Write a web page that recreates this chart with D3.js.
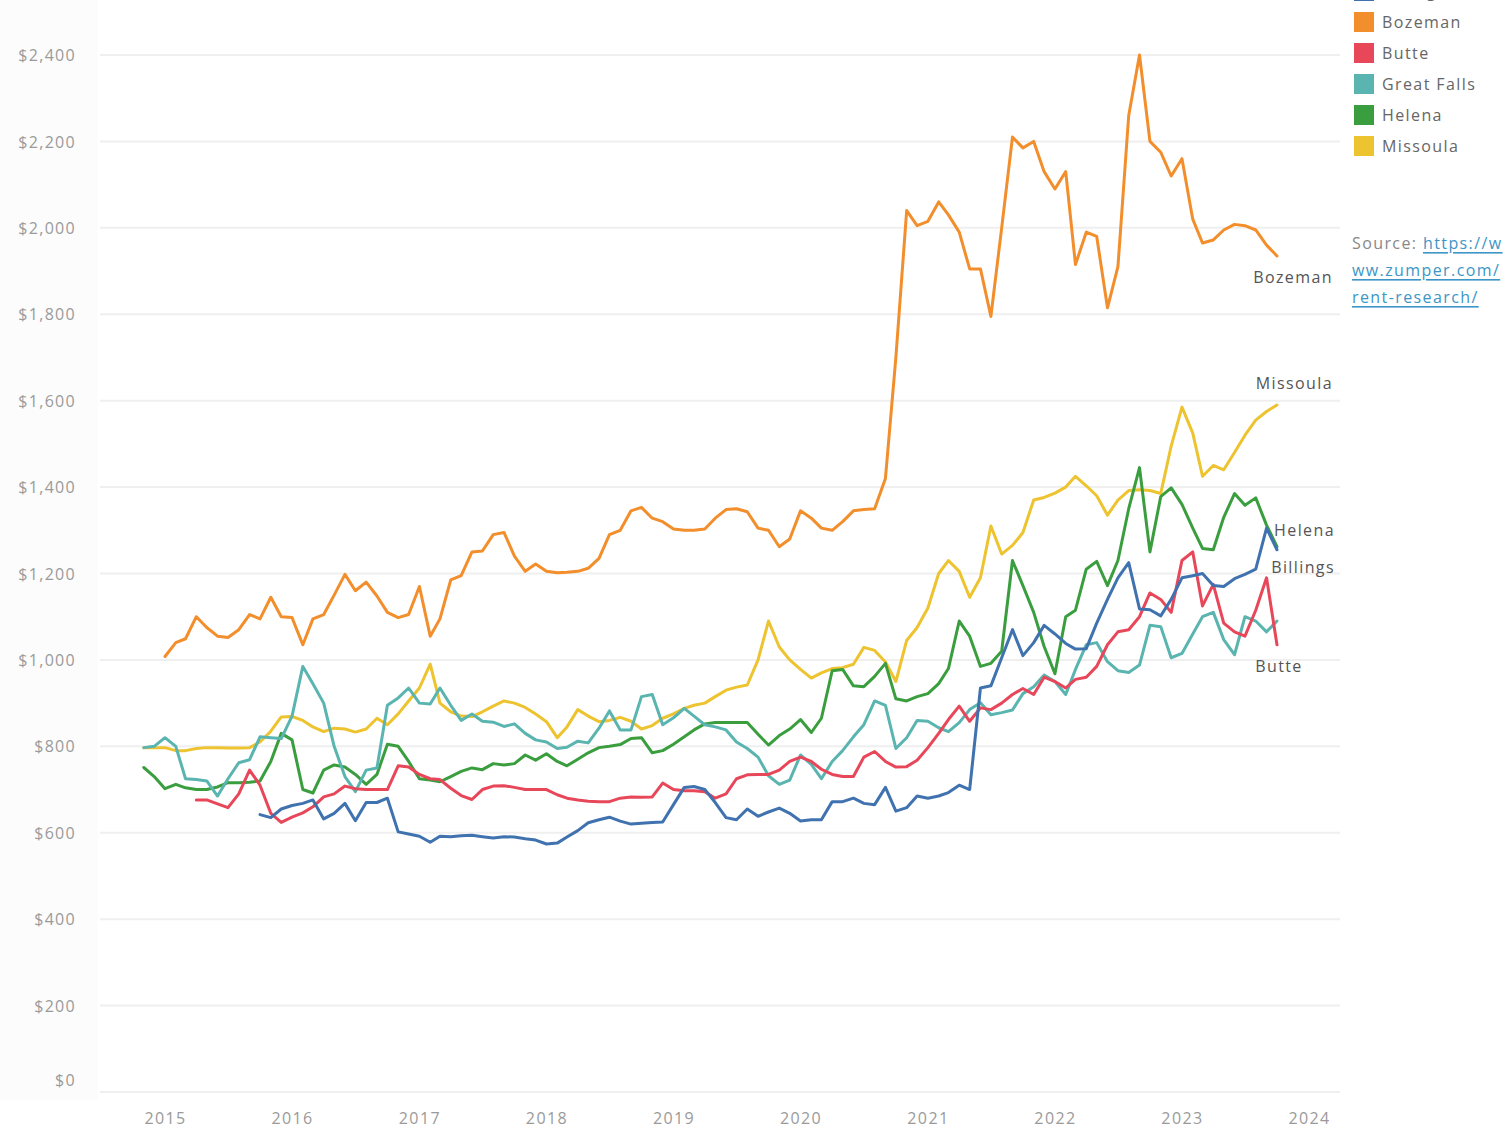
<!DOCTYPE html>
<html>
<head>
<meta charset="utf-8">
<script src="https://cdn.jsdelivr.net/npm/d3@7"></script>
<style>
  body { margin: 0; background: #fff; }
  text { font-family: "Open Sans", "DejaVu Sans", sans-serif; }
</style>
</head>
<body>
<div id="chart"></div>
<script>
// monthly median 1BR rent, Montana cities
var FIRSTMONTH = new Date(2014, 10, 1); // Nov 2014
var YEARTICKS = [2015, 2016, 2017, 2018, 2019, 2020, 2021, 2022, 2023, 2024];
var RENTTICKS = [0, 200, 400, 600, 800, 1000, 1200, 1400, 1600, 1800, 2000, 2200, 2400];
var CITIES = ['Billings', 'Bozeman', 'Butte', 'Great Falls', 'Helena', 'Missoula'];
var COLORS = ['#3f72af', '#f28e2b', '#e8475a', '#5ab4b0', '#3a9e3f', '#edc32f'];
var STARTOFFSET = [11, 2, 5, 0, 0, 0]; // months after Nov 2014 where each series begins

var billings = [642, 635, 655, 663, 668, 676, 632, 645, 668, 628,
  670, 670, 680, 602, 597, 592, 578, 592, 591, 593,
  594, 591, 588, 591, 590, 586, 583, 574, 576, 590,
  605, 623, 630, 636, 627, 620, 622, 624, 625, 665,
  705, 707, 700, 670, 635, 630, 655, 638, 648, 657,
  645, 627, 630, 630, 672, 672, 680, 668, 665, 705,
  650, 658, 685, 680, 685, 693, 710, 700, 935, 940,
  1005, 1070, 1010, 1040, 1080, 1060, 1038, 1025, 1026, 1085,
  1140, 1190, 1225, 1118, 1116, 1102, 1140, 1190, 1195, 1200,
  1172, 1170, 1188, 1198, 1210, 1305, 1255];

var bozeman = [1008, 1040, 1049, 1100, 1075, 1055, 1052, 1070, 1105, 1095,
  1145, 1100, 1098, 1035, 1095, 1105, 1150, 1198, 1160, 1180,
  1148, 1110, 1098, 1105, 1170, 1055, 1095, 1185, 1195, 1250,
  1252, 1290, 1295, 1240, 1205, 1222, 1205, 1202, 1203, 1205,
  1212, 1235, 1290, 1300, 1345, 1353, 1328, 1320, 1303, 1300,
  1300, 1303, 1328, 1348, 1350, 1343, 1305, 1300, 1262, 1280,
  1345, 1328, 1305, 1300, 1320, 1345, 1348, 1350, 1420, 1700,
  2040, 2005, 2015, 2060, 2030, 1990, 1905, 1905, 1795, 2000,
  2210, 2185, 2200, 2130, 2090, 2130, 1915, 1990, 1980, 1815,
  1910, 2260, 2400, 2200, 2175, 2120, 2160, 2020, 1965, 1972,
  1995, 2008, 2005, 1995, 1960, 1935];

var butte = [676, 676, 667, 658, 690, 745, 710, 645, 624, 636,
  646, 660, 683, 690, 708, 702, 700, 700, 700, 755,
  752, 735, 725, 723, 703, 686, 677, 700, 708, 709,
  705, 700, 700, 700, 688, 680, 676, 673, 672, 672,
  680, 683, 682, 683, 715, 700, 697, 697, 695, 680,
  690, 725, 734, 735, 735, 745, 765, 775, 765, 747,
  735, 730, 730, 775, 788, 765, 752, 753, 768, 797,
  830, 862, 893, 858, 889, 885, 900, 920, 934, 920,
  960, 950, 935, 955, 960, 985, 1035, 1065, 1070, 1100,
  1155, 1140, 1110, 1230, 1250, 1125, 1175, 1085, 1065, 1055,
  1115, 1190, 1035];

var greatFalls = [797, 800, 820, 800, 725, 723, 720, 685, 725, 762,
  769, 822, 820, 818, 870, 985, 945, 900, 800, 730,
  695, 745, 750, 895, 912, 935, 900, 898, 935, 895,
  860, 875, 858, 856, 846, 852, 830, 815, 810, 795,
  798, 812, 808, 842, 882, 838, 838, 915, 920, 850,
  866, 888, 870, 850, 845, 838, 810, 795, 775, 732,
  712, 722, 780, 758, 725, 765, 790, 822, 850, 905,
  895, 795, 820, 860, 858, 843, 834, 855, 885, 901,
  873, 878, 884, 922, 938, 965, 950, 920, 978, 1035,
  1040, 996, 975, 971, 988, 1080, 1077, 1005, 1015, 1060,
  1100, 1110, 1047, 1012, 1100, 1090, 1065, 1090];

var helena = [751, 730, 702, 712, 704, 700, 700, 706, 716, 716,
  717, 720, 765, 830, 815, 700, 692, 745, 757, 752,
  735, 712, 735, 805, 800, 765, 725, 722, 718, 730,
  742, 750, 746, 760, 757, 760, 780, 768, 783, 765,
  755, 770, 785, 797, 800, 804, 818, 820, 785, 790,
  805, 822, 838, 852, 855, 855, 855, 855, 828, 803,
  825, 840, 862, 832, 865, 975, 978, 940, 938, 962,
  992, 910, 905, 915, 922, 945, 980, 1090, 1055, 985,
  992, 1020, 1230, 1172, 1110, 1031, 968, 1100, 1115, 1210,
  1228, 1172, 1230, 1350, 1445, 1250, 1378, 1398, 1360, 1305,
  1258, 1255, 1330, 1385, 1358, 1375, 1312, 1262];

var missoula = [797, 797, 797, 790, 790, 795, 797, 797, 796, 796,
  797, 810, 835, 868, 869, 860, 845, 834, 842, 840,
  833, 840, 865, 850, 875, 905, 935, 990, 900, 880,
  870, 869, 880, 893, 905, 900, 890, 875, 857, 820,
  845, 885, 870, 857, 860, 867, 858, 840, 848, 865,
  875, 888, 895, 900, 915, 930, 937, 942, 1000, 1090,
  1030, 1000, 978, 958, 970, 980, 982, 990, 1029, 1022,
  995, 950, 1045, 1075, 1120, 1200, 1230, 1205, 1145, 1190,
  1310, 1245, 1265, 1295, 1370, 1376, 1386, 1400, 1425, 1403,
  1380, 1335, 1370, 1392, 1394, 1392, 1385, 1495, 1585, 1525,
  1425, 1450, 1440, 1480, 1520, 1555, 1575, 1590];

var SERIESVALUES = [billings, bozeman, butte, greatFalls, helena, missoula];

(function () {
  var SVGWIDTH = 1506;
  var SVGHEIGHT = 1132;
  var PANE = {'left': 100, 'right': 1340};
  var FONTCOLOR = '#9a9a9a';
  var SPACING = '1.4px'; //tableau's font runs wide, open sans needs some help
  // end-of-line label placement relative to the last point
  var ENDLABEL = {
    'Bozeman': {'dx': 56, 'dy': 21, 'anchor': 'end'},
    'Missoula': {'dx': 56, 'dy': -22, 'anchor': 'end'},
    'Helena': {'dx': 58, 'dy': -17, 'anchor': 'end'},
    'Billings': {'dx': 58, 'dy': 17, 'anchor': 'end'},
    'Butte': {'dx': 2, 'dy': 21, 'anchor': 'middle'}
  };

  var svg = d3.select('#chart').append('svg')
    .attr('width', SVGWIDTH)
    .attr('height', SVGHEIGHT);

  var x = d3.scaleTime()
    .domain([new Date(2015, 0, 1), new Date(2024, 0, 1)])
    .range([165, 1309]);
  var y = d3.scaleLinear()
    .domain([0, 2400])
    .range([1092, 55]);

  function buildSeries()
  {
    return CITIES.map(function (name, i) {
      return {
        'name': name,
        'color': COLORS[i],
        'points': SERIESVALUES[i].map(function (v, j) {
          return {'date': d3.timeMonth.offset(FIRSTMONTH, STARTOFFSET[i] + j), 'value': v};
        })
      };
    });
  }

  function drawGrid()
  {
    svg.append('rect') //left axis strip is a touch grey in tableau
      .attr('x', 0).attr('y', 0)
      .attr('width', PANE['left'] - 2).attr('height', 1100)
      .style('fill', '#fcfcfc');

    svg.append('g').classed('grid', true)
      .selectAll('line')
      .data(RENTTICKS)
      .join('line')
      .attr('x1', PANE['left'])
      .attr('x2', PANE['right'])
      .attr('y1', function (d) { return y(d); })
      .attr('y2', function (d) { return y(d); })
      .style('stroke', '#efefef')
      .style('stroke-width', 2);
  }

  function drawAxes()
  {
    var yAxis = d3.axisLeft(y)
      .tickValues(RENTTICKS)
      .tickSize(0)
      .tickPadding(0)
      .tickFormat(function (d) { return '$' + d3.format(',')(d); });
    var gY = svg.append('g')
      .attr('transform', 'translate(76,0)')
      .call(yAxis);
    gY.select('.domain').remove();
    gY.selectAll('text')
      .attr('dy', '0.35em')
      .style('font-size', '16px')
      .style('letter-spacing', '1.3px')
      .style('fill', FONTCOLOR);
    //tableau pushes the bottom label up inside the pane
    gY.selectAll('.tick').filter(function (d) { return d === 0; })
      .select('text').attr('dy', '-0.4em');

    var xAxis = d3.axisBottom(x)
      .tickValues(YEARTICKS.map(function (yr) { return new Date(yr, 0, 1); }))
      .tickSize(0)
      .tickPadding(0)
      .tickFormat(d3.timeFormat('%Y'));
    var gX = svg.append('g')
      .attr('transform', 'translate(0,1118)')
      .call(xAxis);
    gX.select('.domain').remove();
    gX.selectAll('text')
      .attr('dy', '0.35em')
      .style('font-size', '16px')
      .style('letter-spacing', SPACING)
      .style('fill', FONTCOLOR);
  }

  function drawLines(aSeries)
  {
    var line = d3.line()
      .x(function (d) { return x(d.date); })
      .y(function (d) { return y(d.value); });

    //billings ends up on top, so draw in reverse legend order
    svg.append('g').classed('lines', true)
      .selectAll('path')
      .data(aSeries.slice().reverse())
      .join('path')
      .attr('d', function (d) { return line(d.points); })
      .style('fill', 'none')
      .style('stroke', function (d) { return d.color; })
      .style('stroke-width', 3)
      .style('stroke-linejoin', 'round')
      .style('stroke-linecap', 'round');

    var gLabels = svg.append('g').classed('endLabels', true);
    aSeries.forEach(function (s) {
      var oPos = ENDLABEL[s.name];
      if (!oPos) return;
      var last = s.points[s.points.length - 1];
      gLabels.append('text')
        .attr('x', x(last.date) + oPos['dx'])
        .attr('y', y(last.value) + oPos['dy'])
        .attr('text-anchor', oPos['anchor'])
        .attr('dominant-baseline', 'central')
        .text(s.name)
        .style('font-size', '16px')
        .style('letter-spacing', SPACING)
        .style('fill', '#555');
    });
  }

  function drawLegend()
  {
    var iTop = -9; //first entry is cut off by the frame, same as the original
    var iStep = 31;
    var g = svg.append('g').classed('legend', true);
    CITIES.forEach(function (name, i) {
      var fY = iTop + i * iStep;
      g.append('rect')
        .attr('x', 1354).attr('y', fY - 10)
        .attr('width', 20).attr('height', 20)
        .style('fill', COLORS[i]);
      g.append('text')
        .attr('x', 1382).attr('y', fY)
        .attr('dominant-baseline', 'central')
        .text(name)
        .style('font-size', '16px')
        .style('letter-spacing', SPACING)
        .style('fill', '#666');
    });
  }

  function drawSource()
  {
    var g = svg.append('g').classed('source', true);
    var t = g.append('text').attr('x', 1352).attr('y', 243)
      .attr('dominant-baseline', 'central')
      .style('font-size', '16px')
      .style('letter-spacing', SPACING);
    t.append('tspan').text('Source: ').style('fill', '#888');
    t.append('tspan').text('https://w')
      .style('fill', '#3d96c6').style('text-decoration', 'underline');
    ['ww.zumper.com/', 'rent-research/'].forEach(function (s, i) {
      g.append('text')
        .attr('x', 1352).attr('y', 270 + i * 27)
        .attr('dominant-baseline', 'central')
        .text(s)
        .style('font-size', '16px')
        .style('letter-spacing', SPACING)
        .style('fill', '#3d96c6')
        .style('text-decoration', 'underline');
    });
  }

  function main()
  {
    var aSeries = buildSeries();
    drawGrid();
    drawAxes();
    drawLines(aSeries);
    drawLegend();
    drawSource();
  }

  main();
})();
</script>
</body>
</html>
